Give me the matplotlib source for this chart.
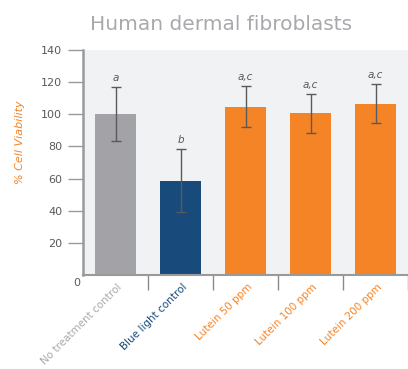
import matplotlib
matplotlib.use("Agg")
import matplotlib.pyplot as plt

categories = ["No treatment control", "Blue light control", "Lutein 50 ppm", "Lutein 100 ppm", "Lutein 200 ppm"]
viability = [100.2, 58.6, 104.8, 100.5, 106.6]
errors = [16.8, 19.7, 12.8, 12.3, 12.3]
letters = ["a", "b", "a,c", "a,c", "a,c"]
yticks = [20, 40, 60, 80, 100, 120, 140]

bar_colors = ["#a3a2a7", "#184a7b", "#f58426", "#f58426", "#f58426"]
label_colors = ["#a7a9ac", "#184a7b", "#f58426", "#f58426", "#f58426"]

W, H = 408, 369
fig = plt.figure(figsize=(W / 100, H / 100), dpi=100)
ax = fig.add_axes([83 / W, 1 - 275 / H, (408 - 83) / W, (275 - 50) / H])
ax.set_facecolor("#f1f2f4")

x = list(range(len(categories)))
ax.bar(x, viability, width=0.63, color=bar_colors, zorder=2)
ax.errorbar(x, viability, yerr=errors, fmt="none", ecolor="#5a5a5a",
            elinewidth=1.0, capsize=3.5, capthick=1.0, zorder=3)

for xi, v, e, lt in zip(x, viability, errors, letters):
    ax.text(xi, v + e + 5.5, lt, ha="center", va="center", fontsize=7.5,
            style="italic", color="#58595b")

ax.set_xlim(-0.5, 4.5)
ax.set_ylim(0, 140)

ax.set_yticks(yticks)
ax.set_yticklabels([str(t) for t in yticks])
ax.tick_params(axis="y", length=11, width=1.0, color="#9a9a9a", pad=4,
               labelsize=8, labelcolor="#58595b")

ax.set_xticks([0.5, 1.5, 2.5, 3.5, 4.5])
ax.set_xticklabels([])
ax.tick_params(axis="x", which="major", length=11, width=1.0, color="#8a8a8a")
ax.set_xticks([xi + 0.02 for xi in x], minor=True)
ax.set_xticklabels(categories, minor=True, rotation=45, ha="right", va="top",
                   rotation_mode="anchor", fontsize=7.5)
ax.tick_params(axis="x", which="minor", length=0, pad=5)
for lbl, c in zip(ax.get_xticklabels(minor=True), label_colors):
    lbl.set_color(c)

for s in ["top", "right"]:
    ax.spines[s].set_visible(False)
ax.spines["left"].set_color("#9a9a9a")
ax.spines["left"].set_linewidth(1.8)
ax.spines["bottom"].set_color("#9a9a9a")
ax.spines["bottom"].set_linewidth(1.5)

fig.text(77 / W, 1 - 283 / H, "0", ha="center", va="center", fontsize=8, color="#58595b")

fig.text(20 / W, 1 - 142 / H, "% Cell Viability", color="#f58426", style="italic",
         fontsize=8, rotation=90, ha="center", va="center")

fig.text(221 / W, 1 - 25 / H, "Human dermal fibroblasts", ha="center", va="center",
         fontsize=14.5, color="#a7a9ac")

fig.savefig("out.png", dpi=100)
